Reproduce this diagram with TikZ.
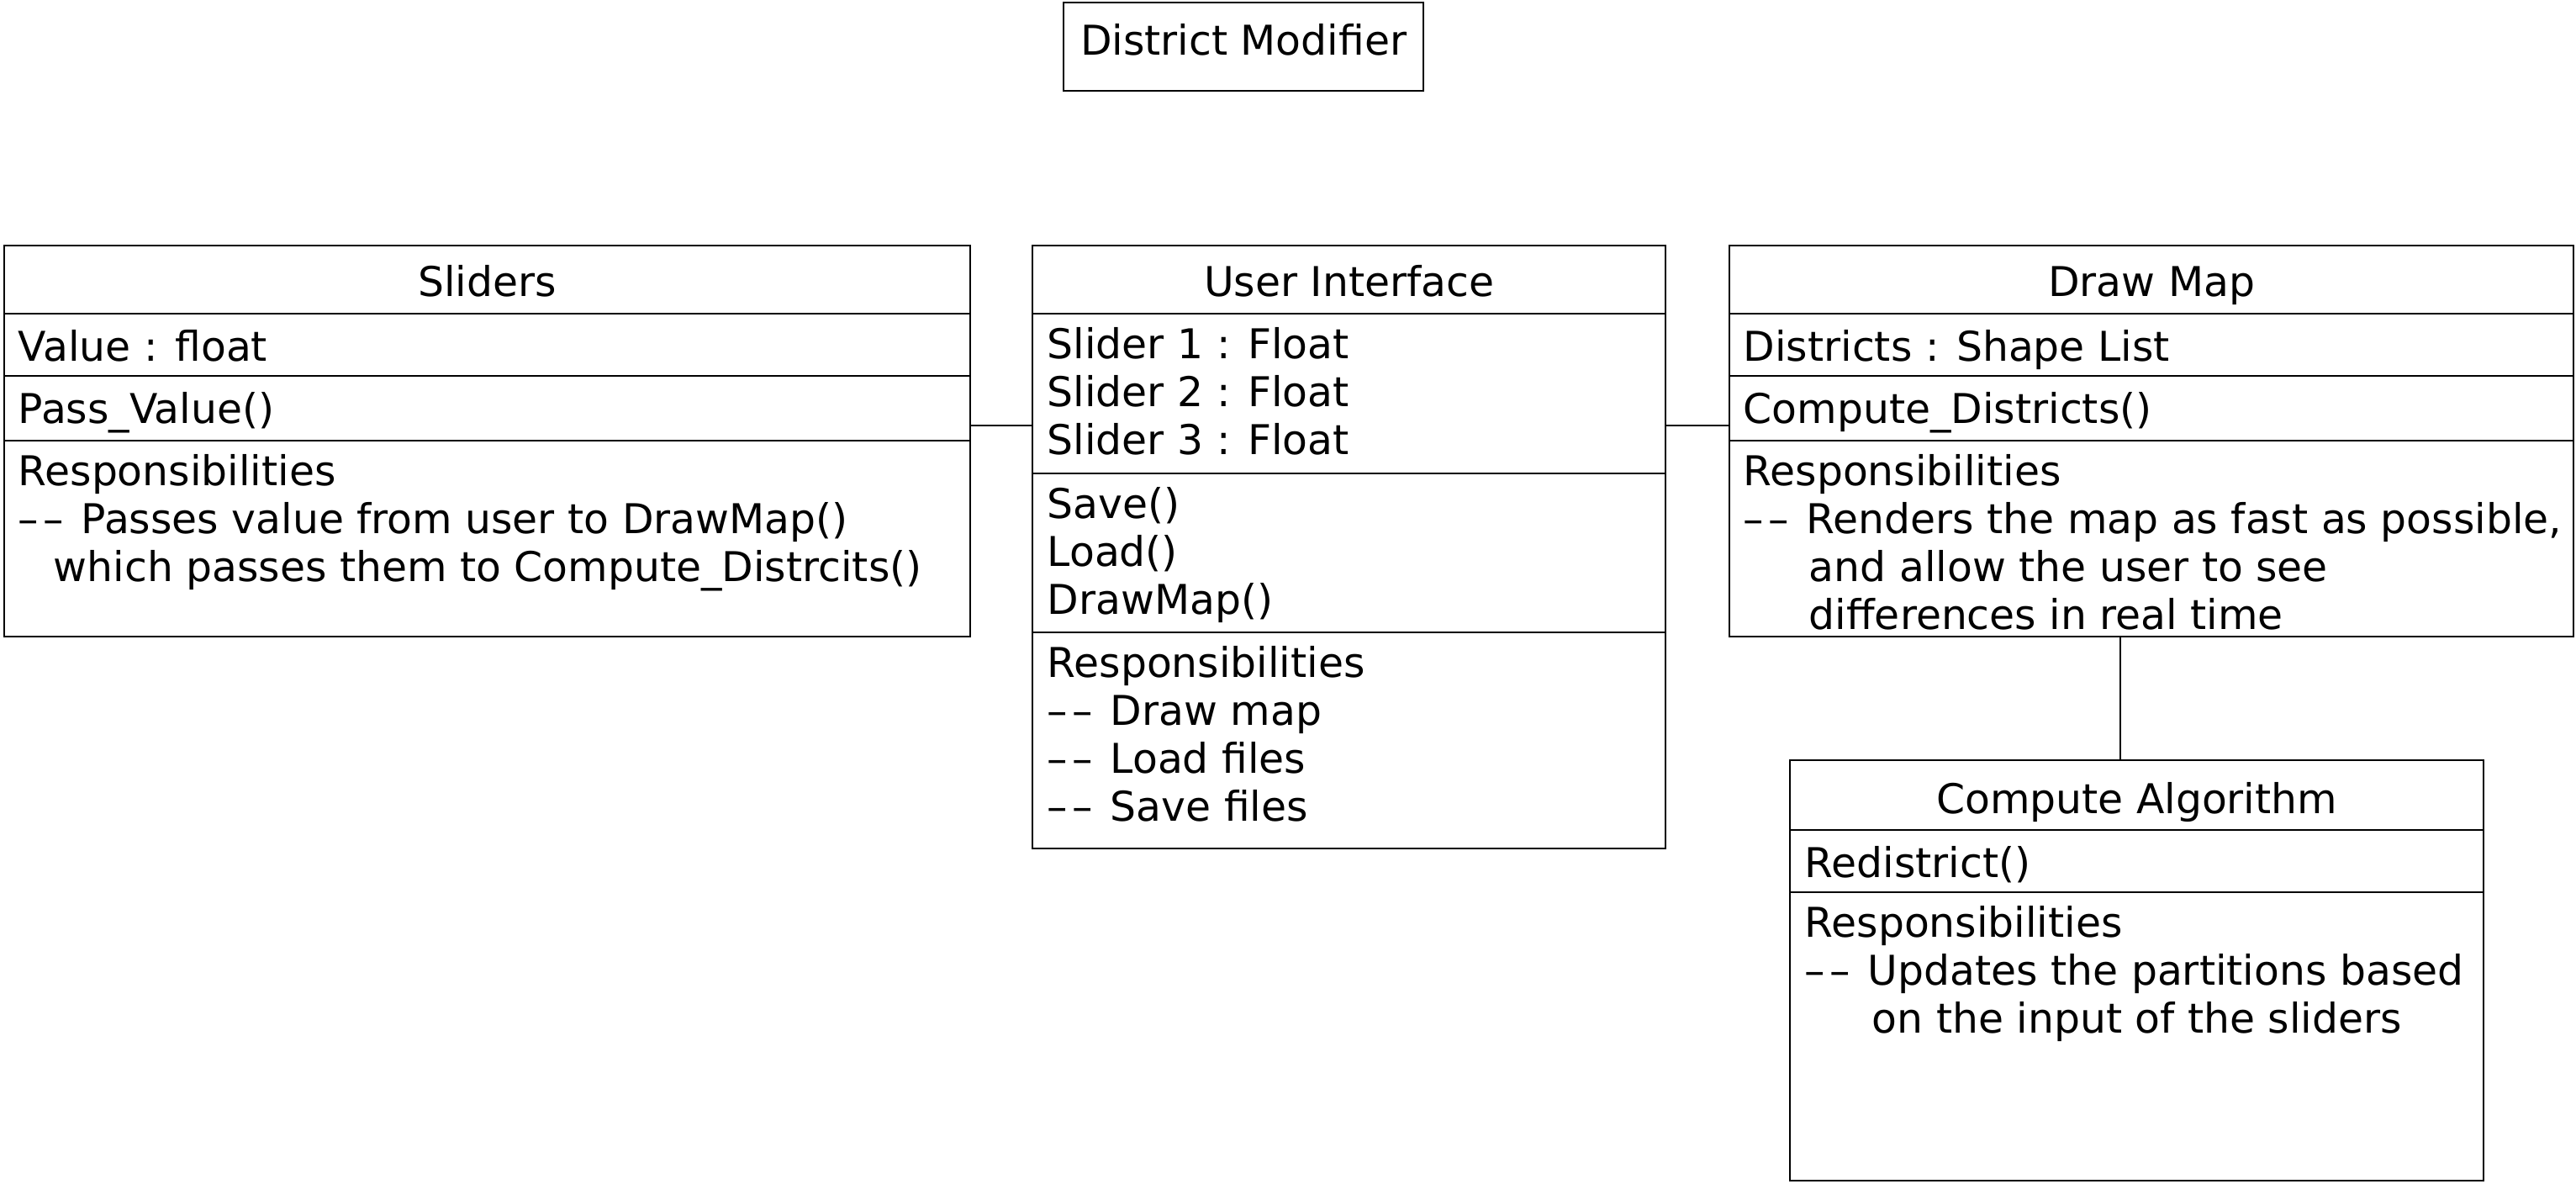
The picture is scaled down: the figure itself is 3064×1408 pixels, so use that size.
\documentclass[tikz,border=0pt]{standalone}
\usepackage{fontspec}
\setmainfont{DejaVu Sans}
\usetikzlibrary{positioning,calc}
\newcommand{\respdash}{\makebox[18.75pt][l]{\textendash\kern1.4pt\textendash}}
\tikzset{
  classbox/.style={
    rectangle,
    draw=black, line width=0.55pt,
    anchor=north west,
    inner sep=0pt},
  classtitle/.style={anchor=base, inner sep=0pt},
  classtext/.style={
    anchor=north west,
    inner sep=0pt,
    align=left,
    execute at begin node=\strut},
  line/.style={draw=black, line width=0.55pt},
}

\begin{document}
\begin{tikzpicture}[
    x=0.25pt, y=-0.25pt,
    every node/.style={font=\fontsize{12.2}{14.25}\selectfont}
    ]
    \useasboundingbox (0,0) rectangle (3064,1408);

    %package name
    \node[classbox, minimum width=107pt, minimum height=26.25pt] (modifier) at (1264,2) {};
    \node[classtitle] (modifier-title) at (modifier.north |- 0,66) {District Modifier};

    %class boxes
    \node[classbox, minimum width=287.25pt, minimum height=116.25pt] (sliders) at (4,291) {};
    \node[classbox, minimum width=188.25pt, minimum height=179.25pt] (ui) at (1227,291) {};
    \node[classbox, minimum width=251pt, minimum height=116.25pt] (drawmap) at (2056,291) {};
    \node[classbox, minimum width=206.25pt, minimum height=125pt] (compute) at (2128,903) {};

    %compartments
    \foreach \y in {373,447,524}
        \draw[line] (sliders.west |- 0,\y) -- (sliders.east |- 0,\y);
    \foreach \y in {373,563,752}
        \draw[line] (ui.west |- 0,\y) -- (ui.east |- 0,\y);
    \foreach \y in {373,447,524}
        \draw[line] (drawmap.west |- 0,\y) -- (drawmap.east |- 0,\y);
    \foreach \y in {987,1061}
        \draw[line] (compute.west |- 0,\y) -- (compute.east |- 0,\y);

    %titles
    \node[classtitle] (sliders-title) at (sliders.north |- 0,353) {Sliders};
    \node[classtitle] (ui-title) at (ui.north |- 0,353) {User Interface};
    \node[classtitle] (drawmap-title) at (drawmap.north |- 0,353) {Draw Map};
    \node[classtitle] (compute-title) at (compute.north |- 0,968) {Compute Algorithm};

    %sliders
    \node[classtext] (sliders-attr) at (21,389) {Value : float};
    \node[classtext] (sliders-meth) at (21,463) {Pass\_Value()};
    \node[classtext] (sliders-resp) at (21,540) {Responsibilities\\
        \respdash Passes value from user to DrawMap()\\
        \hspace*{10.5pt}which passes them to Compute\_Distrcits()};

    %user interface
    \node[classtext] (ui-attr) at (1245,389) {Slider 1 : Float\\Slider 2 : Float\\Slider 3 : Float};
    \node[classtext] (ui-meth) at (1245,579) {Save()\\Load()\\DrawMap()};
    \node[classtext] (ui-resp) at (1245,768) {Responsibilities\\
        \respdash Draw map\\\respdash Load files\\\respdash Save files};

    %draw map
    \node[classtext] (drawmap-attr) at (2073,389) {Districts : Shape List};
    \node[classtext] (drawmap-meth) at (2073,463) {Compute\_Districts()};
    \node[classtext] (drawmap-resp) at (2073,540) {Responsibilities\\
        \respdash Renders the map as fast as possible,\\
        \hspace*{19.5pt}and allow the user to see\\
        \hspace*{19.5pt}differences in real time};

    %compute algorithm
    \node[classtext] (compute-meth) at (2146,1003) {Redistrict()};
    \node[classtext] (compute-resp) at (2146,1077) {Responsibilities\\
        \respdash Updates the partitions based\\
        \hspace*{20pt}on the input of the sliders};

    %associations
    \draw[line] (sliders.east |- 0,506) -- (ui.west |- 0,506);
    \draw[line] (ui.east |- 0,506) -- (drawmap.west |- 0,506);
    \draw[line] (drawmap.south -| 2522,0) -- (compute.north -| 2522,0);

\end{tikzpicture}
\end{document}
